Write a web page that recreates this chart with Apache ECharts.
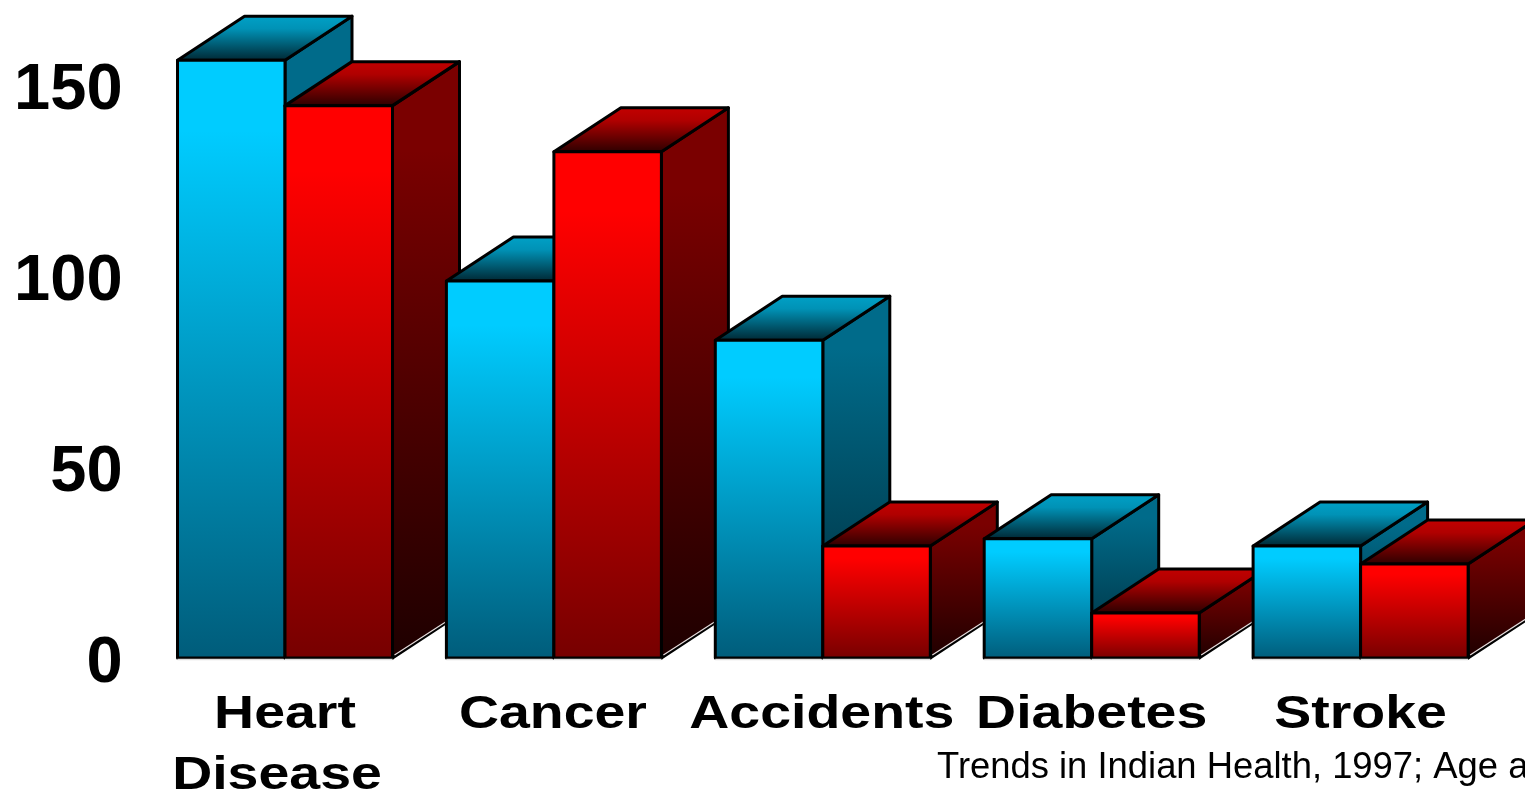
<!DOCTYPE html>
<html>
<head>
<meta charset="utf-8">
<title>Leading causes of death</title>
<style>html,body{margin:0;padding:0;background:#fff}#chart{width:1525px;height:792px}</style>
<script src="https://cdn.jsdelivr.net/npm/echarts@6/dist/echarts.min.js"></script>
</head>
<body>
<div id="chart"></div>
<script>
const categories = ['Heart\nDisease', 'Cancer', 'Accidents', 'Diabetes', 'Stroke'];
const blueValues = [156.5, 98.7, 83.2, 31.2, 29.3];
const redValues = [144.6, 132.5, 29.3, 11.8, 24.6];
const yTicks = [0, 50, 100, 150];
const sourceNote = 'Trends in Indian Health, 1997; Age a';

const BAR_W = 107.5, DX = 67, DY = -44;
const grad = (stops) => new echarts.graphic.LinearGradient(0, 0, 0, 1,
  stops.map(([offset, color]) => ({ offset, color })));

const palettes = {
  blue: {
    front: [[0, '#00ccff'], [0.12, '#00ccff'], [1, '#005c7a']],
    side: [[0, '#006b8a'], [0.15, '#006b8a'], [1, '#002c3a']],
    top: [[0, '#00a2c8'], [0.3, '#0092b6'], [1, '#00242f']]
  },
  red: {
    front: [[0, '#ff0000'], [0.12, '#ff0000'], [1, '#760000']],
    side: [[0, '#7a0000'], [0.15, '#7a0000'], [1, '#1e0000']],
    top: [[0, '#c40000'], [0.3, '#b00000'], [1, '#280000']]
  }
};

// One extruded bar: side and top faces behind the front face, later categories stacked above earlier ones.
function boxRenderer(palette, shift) {
  return function (params, api) {
    const i = api.value(0);
    const [cx, yTop] = api.coord([i, api.value(1)]);
    const [, yBase] = api.coord([i, 0]);
    const x0 = cx + shift, x1 = x0 + BAR_W;
    const z2 = (i * 2 + (shift < 0 ? 0 : 1)) * 10;
    const edge = { stroke: '#000', lineWidth: 3, lineJoin: 'round' };
    const poly = (points, fill) => ({
      type: 'polygon', z2, shape: { points },
      style: Object.assign({ fill }, edge)
    });
    return {
      type: 'group',
      children: [
        poly([[x1, yTop], [x1 + DX, yTop + DY], [x1 + DX, yBase + DY], [x1, yBase]], grad(palette.side)),
        {
          type: 'line', z2,
          shape: { x1: x1 + 2, y1: yBase - 3, x2: x1 + DX, y2: yBase + DY - 1 },
          style: { stroke: '#e8dcdc', lineWidth: 1.2 }
        },
        poly([[x0, yTop], [x0 + DX, yTop + DY], [x1 + DX, yTop + DY], [x1, yTop]], grad(palette.top)),
        poly([[x0, yTop], [x1, yTop], [x1, yBase], [x0, yBase]], grad(palette.front)),
        {
          type: 'line', z2,
          shape: { x1: x0, y1: yBase + 1.5, x2: x1, y2: yBase + 1.5 },
          style: { stroke: '#dedede', lineWidth: 1.5 }
        }
      ]
    };
  };
}

// Category captions are set wide, so each line is a text element stretched horizontally.
function captionRenderer(params, api) {
  const i = api.value(0);
  const [cx, yBase] = api.coord([i, 0]);
  const lines = categories[i].split('\n');
  return {
    type: 'group',
    children: lines.map((line, n) => ({
      type: 'text',
      x: cx + (n === 1 ? -8 : 0) - (i === 1 ? 1 : 0) - (i === 2 ? 1 : 0),
      y: yBase + 57 + n * 61,
      scaleX: 1.18,
      style: {
        text: line, x: 0, y: 0, align: 'center', verticalAlign: 'middle',
        fill: '#000', font: 'bold 47px "Liberation Sans"'
      }
    }))
  };
}

const chart = echarts.init(document.getElementById('chart'), null, { renderer: 'canvas' });
chart.setOption({
  animation: false,
  backgroundColor: '#fff',
  title: {
    text: sourceNote, left: 932, top: 745,
    textStyle: { fontFamily: 'Liberation Sans', fontWeight: 'normal', fontSize: 36.4, color: '#000' }
  },
  grid: { left: 150.55, width: 1344.5, top: 46.8, height: 611.2, containLabel: false },
  xAxis: {
    type: 'category', data: categories,
    axisLine: { show: false }, axisTick: { show: false }, axisLabel: { show: false }
  },
  yAxis: {
    type: 'value', min: 0, max: 160, interval: 50,
    axisLine: { show: false }, axisTick: { show: false }, splitLine: { show: false },
    axisLabel: {
      margin: 28,
      formatter: (v) => yTicks.includes(v) ? '{tick|' + v + '}' : '',
      rich: {
        tick: {
          color: '#000', fontFamily: 'Liberation Sans', fontWeight: 'bold', fontSize: 65,
          padding: [12, 0, 0, 0]
        }
      }
    }
  },
  series: [
    {
      name: 'Blue bars', type: 'custom', clip: false,
      data: blueValues.map((v, i) => [i, v]),
      renderItem: boxRenderer(palettes.blue, -BAR_W)
    },
    {
      name: 'Red bars', type: 'custom', clip: false,
      data: redValues.map((v, i) => [i, v]),
      renderItem: boxRenderer(palettes.red, 0)
    },
    {
      name: 'Captions', type: 'custom', clip: false,
      data: categories.map((c, i) => [i, 0]),
      renderItem: captionRenderer
    }
  ]
});
</script>
</body>
</html>
